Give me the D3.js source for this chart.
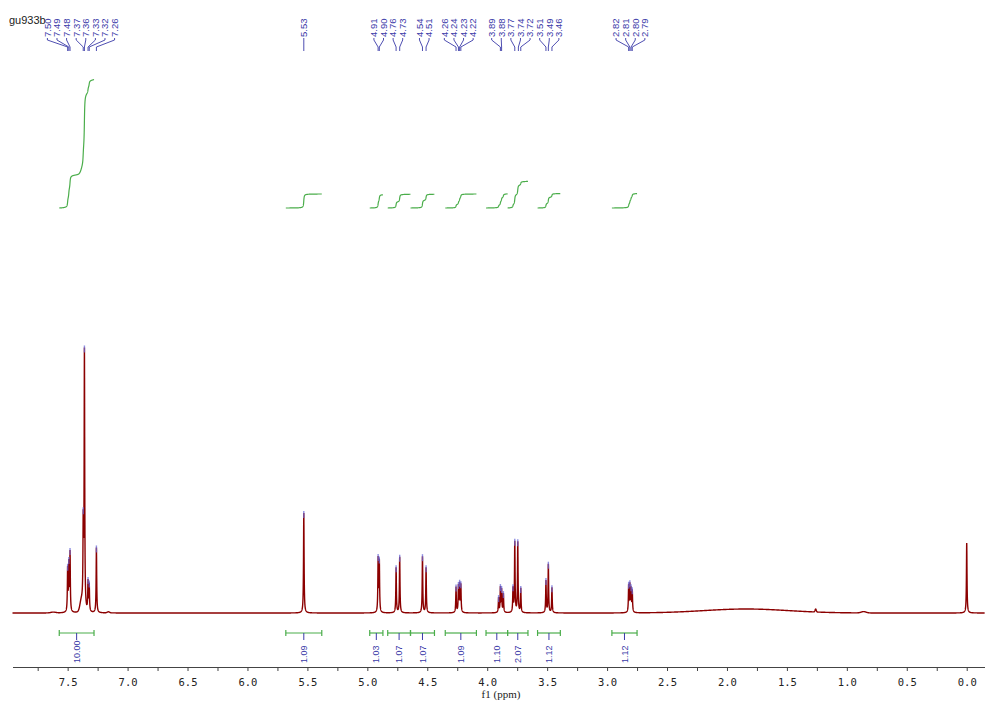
<!DOCTYPE html>
<html>
<head>
<meta charset="utf-8">
<script src="https://cdn.jsdelivr.net/npm/d3@7"></script>
<style>
body { margin: 0; background: #fff; }
</style>
</head>
<body>
<script>
const title = "gu933b";

// spectrum lines: shift (ppm) and height (% of the tallest line)
const peakPpm = [7.50, 7.49, 7.48, 7.37, 7.36, 7.33, 7.32, 7.26, 5.53, 4.91, 4.90, 4.76, 4.73, 4.54, 4.51,
  4.26, 4.24, 4.23, 4.22, 3.905, 3.89, 3.88, 3.865, 3.785, 3.77, 3.745, 3.72, 3.51, 3.49, 3.46,
  2.82, 2.81, 2.80, 2.79, 0.00];
const peakHeight = [16, 17.5, 22, 30, 97, 11, 10, 24.5, 37.6, 20, 19, 17, 21, 21.2, 17,
  9.6, 9.8, 10.2, 10.2, 5.5, 9.2, 8.4, 7, 9, 26.5, 26.5, 9, 12, 18.2, 9.5,
  10, 10, 8.5, 8, 26.3];

// broad humps and small bumps: centre, height, half width
const broadPpm = [1.84, 7.385, 1.26, 0.86, 7.16, 7.62];
const broadHeight = [1.5, 4, 1.1, 0.5, 0.4, 0.3];
const broadWidth = [0.35, 0.012, 0.005, 0.02, 0.01, 0.02];

// peak picking labels
const peakLabels = ["7.50", "7.49", "7.48", "7.37", "7.36", "7.33", "7.32", "7.26", "5.53",
  "4.91", "4.90", "4.76", "4.73", "4.54", "4.51", "4.26", "4.24", "4.23", "4.22",
  "3.89", "3.88", "3.77", "3.74", "3.72", "3.51", "3.49", "3.46",
  "2.82", "2.81", "2.80", "2.79"];

// integrals
const integFrom = [7.57, 5.68, 4.98, 4.83, 4.64, 4.35, 4.01, 3.83, 3.58, 2.96];
const integTo = [7.28, 5.38, 4.87, 4.64, 4.44, 4.09, 3.83, 3.66, 3.39, 2.75];
const integValue = ["10.00", "1.09", "1.03", "1.07", "1.07", "1.09", "1.10", "2.07", "1.12", "1.12"];

const xTicks = d3.range(0, 33).map(i => 8 - i * 0.25).filter(d => d <= 7.9 && d >= 0);

const W = 985, H = 702;
const blue = "#3a3aa8", green = "#4aad4a", red = "#8b0000";

const svg = d3.select("body").append("svg")
  .attr("width", W).attr("height", H);

const x = d3.scaleLinear().domain([7.96, -0.15]).range([12.5, 984.7]);
const y = d3.scaleLinear().domain([0, 100]).range([613, 347]);
const yInt = d3.scaleLinear().domain([0, 10]).range([208, 79.5]);

const hw = 0.0028;
function spec(p) {
  let s = 0;
  for (let i = 0; i < peakPpm.length; i++) {
    const d = (p - peakPpm[i]) / hw;
    s += peakHeight[i] / (1 + d * d);
  }
  for (let i = 0; i < broadPpm.length; i++) {
    const d = (p - broadPpm[i]) / broadWidth[i];
    s += broadHeight[i] * Math.exp(-0.5 * d * d);
  }
  return s;
}

const step = 0.0005;
const grid = d3.range(7.96, -0.15, -step).map(p => [p, spec(p)]);

// spectrum
svg.append("path")
  .datum(grid)
  .attr("fill", "none")
  .attr("stroke", red)
  .attr("stroke-width", 1.4)
  .attr("d", d3.line().x(d => x(d[0])).y(d => y(d[1])));

// blue marks at the picked peak tops
svg.selectAll("line.pk")
  .data(peakPpm.filter(p => p > 0.5))
  .join("line")
  .attr("class", "pk")
  .attr("x1", d => x(d)).attr("x2", d => x(d))
  .attr("y1", d => y(spec(d)) - 2)
  .attr("y2", d => y(spec(d)) + 5)
  .attr("stroke", "#6a6ad8")
  .attr("stroke-width", 1.4)
  .attr("opacity", 0.75);

// spread peak labels so they do not overlap
function spread(xs, gap) {
  const groups = [];
  xs.forEach(v => {
    groups.push({ sum: v, n: 1 });
    while (groups.length > 1) {
      const a = groups[groups.length - 2], b = groups[groups.length - 1];
      const aEnd = a.sum / a.n + (a.n - 1) * gap / 2;
      const bStart = b.sum / b.n - (b.n - 1) * gap / 2;
      if (bStart - aEnd < gap) {
        groups.splice(groups.length - 2, 2, { sum: a.sum + b.sum, n: a.n + b.n });
      } else break;
    }
  });
  const out = [];
  groups.forEach(g => {
    const c = g.sum / g.n;
    for (let i = 0; i < g.n; i++) out.push(c + (i - (g.n - 1) / 2) * gap);
  });
  return out;
}

const peakX = peakLabels.map(s => x(+s));
const labelX = spread(peakX, 9.6);

svg.selectAll("path.lead")
  .data(peakLabels)
  .join("path")
  .attr("class", "lead")
  .attr("fill", "none")
  .attr("stroke", blue)
  .attr("stroke-width", 0.9)
  .attr("d", (d, i) => `M${labelX[i]},38 L${labelX[i]},40 L${peakX[i]},47 L${peakX[i]},51`);

svg.selectAll("text.pl")
  .data(peakLabels)
  .join("text")
  .attr("class", "pl")
  .attr("transform", (d, i) => `translate(${labelX[i]},37) rotate(-90)`)
  .attr("dy", "0.35em")
  .attr("font-family", "Liberation Sans, sans-serif")
  .attr("font-size", 9.5)
  .attr("fill", blue)
  .text(d => d);

// title
svg.append("text")
  .attr("x", 9).attr("y", 24)
  .attr("font-family", "Liberation Sans, sans-serif")
  .attr("font-size", 11)
  .attr("fill", "#222")
  .text(title);

// integral curves
const integLine = d3.line().x(d => x(d[0])).y(d => yInt(d[1]));
integFrom.forEach((f, i) => {
  const pts = grid.filter(d => d[0] <= f && d[0] >= integTo[i]);
  const total = d3.sum(pts, d => d[1]);
  let acc = 0;
  const curve = pts.map(d => { acc += d[1]; return [d[0], acc / total * (+integValue[i])]; });
  svg.append("path")
    .datum(curve)
    .attr("fill", "none")
    .attr("stroke", green)
    .attr("stroke-width", 1.2)
    .attr("d", integLine);
});

// integral bars
const barY = 633;
const bars = svg.append("g");
integFrom.forEach((f, i) => {
  const x1 = x(f), x2 = x(integTo[i]), cx = (x1 + x2) / 2;
  bars.append("line").attr("x1", x1).attr("x2", x2).attr("y1", barY).attr("y2", barY)
    .attr("stroke", green).attr("stroke-width", 1.2);
  [x1, x2].forEach(xx => bars.append("line")
    .attr("x1", xx).attr("x2", xx).attr("y1", barY - 3).attr("y2", barY + 3)
    .attr("stroke", green).attr("stroke-width", 1.2));
  bars.append("line").attr("x1", cx).attr("x2", cx).attr("y1", barY).attr("y2", barY + 7)
    .attr("stroke", blue).attr("stroke-width", 1);
  bars.append("text")
    .attr("transform", `translate(${cx},663) rotate(-90)`)
    .attr("dy", "0.35em")
    .attr("font-family", "Liberation Sans, sans-serif")
    .attr("font-size", 9)
    .attr("fill", blue)
    .text(integValue[i]);
});

// x axis
const axisY = 667;
const gx = svg.append("g")
  .attr("transform", `translate(0,${axisY})`)
  .call(d3.axisBottom(x)
    .tickValues(xTicks)
    .tickSize(4)
    .tickSizeOuter(0)
    .tickPadding(8)
    .tickFormat(d => (Math.round(d * 4) % 2 === 0) ? d.toFixed(1) : ""));
gx.select(".domain").attr("stroke", "#444").attr("stroke-width", 1.2);
gx.selectAll(".tick line").attr("stroke", "#444");
gx.selectAll(".tick text")
  .attr("font-family", "DejaVu Sans Mono, monospace")
  .attr("font-size", 10.5)
  .attr("fill", "#222");

svg.append("text")
  .attr("x", 501).attr("y", 698)
  .attr("text-anchor", "middle")
  .attr("font-family", "Liberation Serif, serif")
  .attr("font-size", 11)
  .attr("fill", "#222")
  .text("f1 (ppm)");
</script>
</body>
</html>
